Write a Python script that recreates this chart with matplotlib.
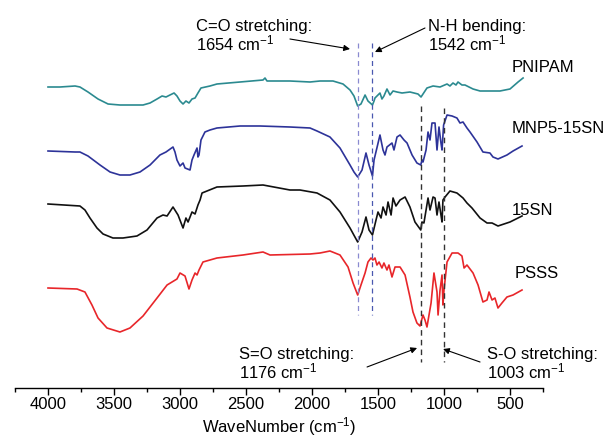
import numpy as np
import matplotlib.pyplot as plt

plt.rcParams['font.family'] = ['Liberation Sans', 'DejaVu Sans']
plt.rcParams['mathtext.default'] = 'regular'

# traces: wavenumber (cm-1) and depth from top of plot (a.u., offset)
pnipam_w = [4000, 3909, 3795, 3758, 3697, 3621, 3545, 3455, 3280, 3227, 3174, 3136, 3106, 3076,
            3045, 3023, 3000, 2977, 2955, 2932, 2909, 2886, 2864, 2841, 2773, 2720, 2545, 2371,
            2356, 2341, 2167, 2015, 1939, 1841, 1765, 1712, 1682, 1654, 1629, 1598, 1576, 1542,
            1530, 1523, 1485, 1470, 1455, 1432, 1409, 1386, 1356, 1318, 1258, 1197, 1174, 1159,
            1129, 1083, 1030, 977, 955, 932, 909, 894, 864, 841, 780, 727, 674, 576, 500, 439, 401]
pnipam_y = [87, 87, 86, 87, 92, 99, 104, 105, 105, 103, 99, 96, 97, 95,
            93, 96, 101, 104, 101, 103, 99, 98, 93, 88, 86, 84, 82, 80,
            78, 81, 81, 82, 81, 81, 84, 90, 96, 106, 104, 95, 101, 105,
            101, 98, 93, 99, 96, 89, 95, 91, 92, 93, 92, 94, 97, 94,
            88, 86, 87, 84, 86, 83, 85, 82, 85, 85, 89, 91, 91, 91, 89, 82, 78]

mnp_w = [4000, 3795, 3758, 3697, 3606, 3530, 3455, 3379, 3303, 3227, 3152, 3106, 3053, 3038,
         3023, 3000, 2977, 2962, 2924, 2909, 2894, 2871, 2864, 2856, 2841, 2811, 2773, 2720,
         2545, 2394, 2167, 2015, 1962, 1864, 1788, 1712, 1682, 1654, 1621, 1591, 1568, 1542,
         1530, 1485, 1462, 1447, 1432, 1394, 1379, 1356, 1333, 1303, 1280, 1242, 1205, 1176,
         1167, 1159, 1136, 1121, 1106, 1091, 1068, 1053, 1038, 1023, 1015, 1003, 977, 939,
         902, 879, 856, 826, 803, 750, 705, 652, 629, 591, 523, 477, 409]
mnp_y = [151, 152, 152, 156, 165, 172, 175, 175, 172, 165, 155, 152, 147, 152,
         160, 166, 163, 168, 170, 160, 155, 148, 157, 155, 140, 132, 130, 128,
         126, 126, 127, 128, 131, 137, 148, 165, 172, 177, 170, 153, 165, 176,
         160, 135, 150, 155, 147, 143, 150, 137, 135, 140, 143, 155, 163, 165,
         160, 162, 150, 132, 140, 123, 123, 150, 127, 143, 150, 125, 115, 116,
         118, 123, 122, 128, 132, 142, 152, 153, 157, 159, 155, 151, 146]

sn_w = [4000, 3758, 3720, 3682, 3629, 3583, 3508, 3432, 3326, 3250, 3174, 3129, 3098, 3053,
        3015, 2977, 2955, 2939, 2909, 2886, 2864, 2848, 2833, 2720, 2523, 2371, 2167, 2091,
        1962, 1864, 1788, 1712, 1654, 1621, 1591, 1568, 1542, 1515, 1500, 1477, 1462, 1439,
        1424, 1401, 1386, 1364, 1333, 1295, 1258, 1220, 1176, 1167, 1152, 1121, 1106, 1083,
        1068, 1053, 1038, 1023, 1015, 1008, 992, 955, 902, 856, 826, 788, 727, 674, 636,
        591, 500, 409]
sn_y = [204, 206, 210, 218, 228, 234, 238, 238, 236, 230, 218, 215, 216, 207,
        215, 228, 218, 222, 212, 214, 205, 200, 193, 187, 186, 185, 190, 190,
        193, 200, 212, 228, 242, 232, 217, 230, 235, 220, 212, 218, 207, 215,
        202, 215, 198, 206, 200, 197, 207, 222, 230, 222, 223, 198, 210, 197,
        198, 215, 202, 215, 222, 200, 197, 191, 193, 198, 203, 208, 218, 223, 223,
        226, 222, 216]

psss_w = [4000, 3780, 3720, 3667, 3621, 3553, 3455, 3379, 3280, 3174, 3098, 3023, 3000, 2962,
          2932, 2909, 2886, 2871, 2856, 2826, 2720, 2523, 2371, 2318, 2015, 1939, 1864, 1788,
          1727, 1689, 1654, 1629, 1598, 1576, 1553, 1538, 1523, 1508, 1492, 1470, 1455, 1432,
          1417, 1394, 1371, 1333, 1295, 1258, 1235, 1205, 1182, 1159, 1144, 1129, 1098, 1076,
          1053, 1045, 1030, 1015, 1008, 1000, 977, 939, 894, 864, 848, 826, 803, 780, 742,
          705, 674, 659, 636, 614, 591, 561, 523, 477, 409]
psss_y = [288, 289, 292, 305, 318, 328, 332, 328, 316, 298, 285, 279, 273, 276,
          289, 280, 273, 275, 270, 262, 258, 255, 252, 255, 254, 253, 251, 255,
          267, 283, 295, 285, 273, 262, 258, 260, 258, 265, 262, 268, 263, 270,
          265, 277, 267, 267, 275, 297, 312, 323, 326, 315, 320, 327, 303, 273,
          292, 315, 290, 275, 305, 290, 262, 253, 253, 256, 268, 265, 269, 273, 285,
          302, 300, 292, 300, 298, 308, 303, 297, 295, 290]

series = [
    ('PNIPAM', pnipam_w, pnipam_y, '#2b8a90', 67),
    ('MNP5-15SN', mnp_w, mnp_y, '#2d3399', 128),
    ('15SN', sn_w, sn_y, '#111111', 210),
    ('PSSS', psss_w, psss_y, '#e8262a', 273),
]

fig = plt.figure(figsize=(6.08, 4.40), dpi=100)
ax = fig.add_axes([15 / 608, 52 / 440, 528 / 608, 388 / 440])

for name, w, y, col, ly in series:
    ax.plot(w, y, color=col, lw=1.2)
    ax.text(490 if name != 'PSSS' else 462, ly, name, fontsize=12, va='center', ha='left')

# marker lines
ax.plot([1654, 1654], [43, 315], color='#8a8ad0', lw=0.9, ls=(0, (4, 3)))
ax.plot([1542, 1542], [43, 315], color='#4a58b0', lw=0.9, ls=(0, (4, 3)))
ax.plot([1176, 1176], [106, 362], color='#333333', lw=1.0, ls=(0, (4, 3)))
ax.plot([1003, 1003], [108, 362], color='#333333', lw=1.0, ls=(0, (4, 3)))

arrow = dict(arrowstyle='-|>', color='black', lw=0.8, mutation_scale=9, shrinkA=0, shrinkB=0)
ax.text(2879, 31, 'C=O stretching:', fontsize=12)
ax.text(2879, 50, '1654 cm$^{-1}$', fontsize=12)
ax.annotate('', xy=(1712, 49), xytext=(2167, 39), arrowprops=arrow)
ax.text(1121, 31, 'N-H bending:', fontsize=12)
ax.text(1121, 50, '1542 cm$^{-1}$', fontsize=12)
ax.annotate('', xy=(1523, 52), xytext=(1144, 28), arrowprops=arrow)
ax.text(2553, 359, 'S=O stretching:', fontsize=12)
ax.text(2553, 378, '1176 cm$^{-1}$', fontsize=12)
ax.annotate('', xy=(1204, 348), xytext=(1583, 367), arrowprops=arrow)
ax.text(674, 359, 'S-O stretching:', fontsize=12)
ax.text(674, 378, '1003 cm$^{-1}$', fontsize=12)
ax.annotate('', xy=(1007, 349), xytext=(727, 362), arrowprops=arrow)

ax.set_xlim(4250, 250)
ax.set_ylim(388, 0)
ax.set_xticks([4000, 3500, 3000, 2500, 2000, 1500, 1000, 500])
ax.set_xticks(np.arange(4250, 249, -500), minor=True)
ax.tick_params(axis='x', which='major', length=5, width=1, labelsize=12, pad=1.5)
ax.tick_params(axis='x', which='minor', length=3, width=1)
ax.set_yticks([])
for s in ['left', 'top', 'right']:
    ax.spines[s].set_visible(False)
ax.spines['bottom'].set_linewidth(1.0)
ax.set_xlabel('WaveNumber (cm$^{-1}$)', fontsize=12, labelpad=2)

fig.savefig('out.png', dpi=100)
